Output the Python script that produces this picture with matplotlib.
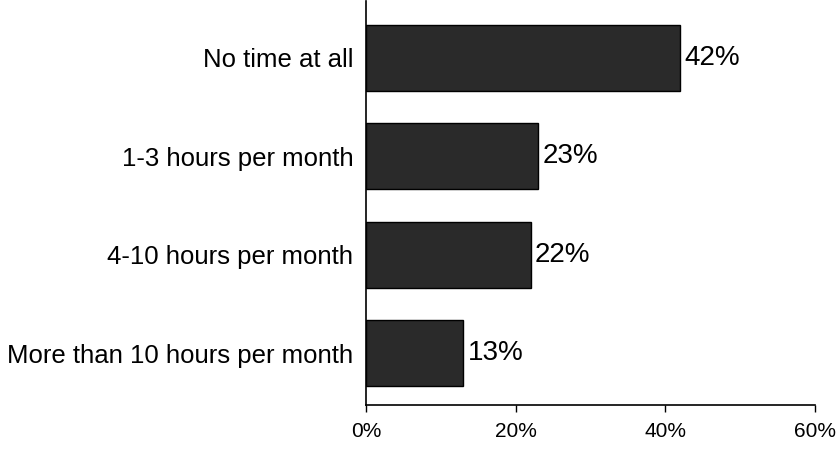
import matplotlib.pyplot as plt
import numpy as np

# survey answers, top to bottom
categories = ['No time at all', '1-3 hours per month', '4-10 hours per month',
              'More than 10 hours per month']
shares = [42, 23, 22, 13]
ticks = [0, 20, 40, 60]
tick_labels = ['0%', '20%', '40%', '60%']

plt.rcParams['font.family'] = ['Liberation Sans', 'DejaVu Sans']

fig = plt.figure(figsize=(8.4, 4.49), dpi=100)
ax = fig.add_axes([0.4357, 0.098, 0.5345, 0.9])

y = np.arange(len(categories))
ax.barh(y, shares, height=0.67, color='#2a2a2a', edgecolor='black', linewidth=1)

# value labels at the end of each bar
for yi, v in zip(y, shares):
    ax.text(v + 0.6, yi, f'{v}%', va='center', ha='left', fontsize=20)

ax.set_xlim(0, 60)
ax.set_ylim(3.525, -0.575)
ax.set_xticks(ticks)
ax.set_xticklabels(tick_labels, fontsize=15)
ax.set_yticks(y)
ax.set_yticklabels(categories, fontsize=18.5)

ax.tick_params(axis='x', direction='out', length=5, width=1, pad=7)
ax.tick_params(axis='y', length=0, pad=9)

ax.spines['top'].set_visible(False)
ax.spines['right'].set_visible(False)
ax.spines['left'].set_linewidth(1.2)
ax.spines['bottom'].set_linewidth(1.2)

plt.savefig('out.png', dpi=100)
